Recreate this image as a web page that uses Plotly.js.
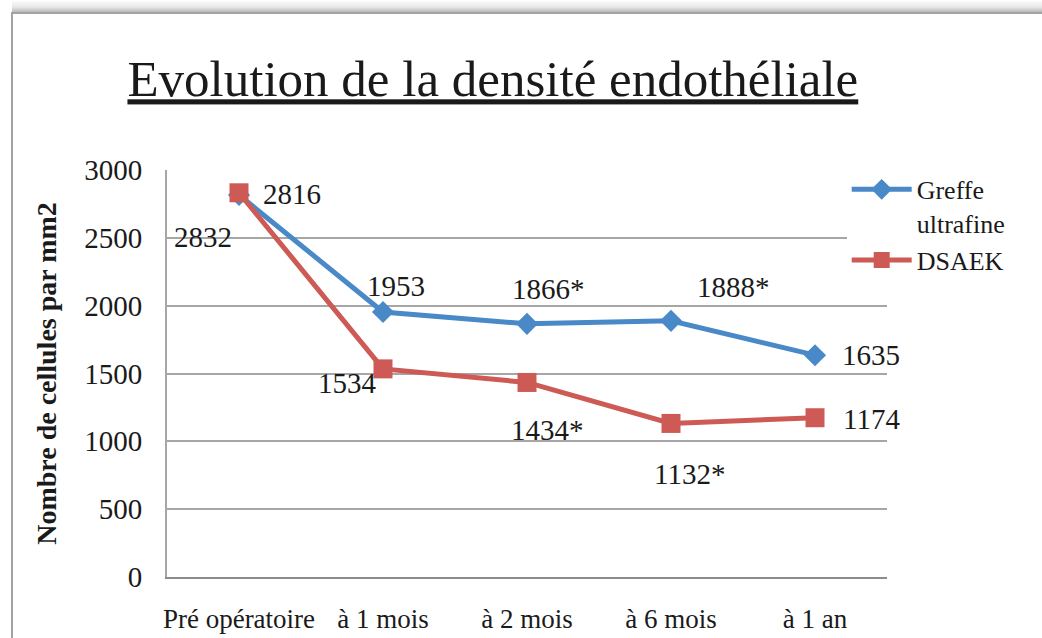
<!DOCTYPE html>
<html>
<head>
<meta charset="utf-8">
<script src="https://cdn.plot.ly/plotly-3.0.1.min.js"></script>
<style>
  html, body { margin: 0; padding: 0; background: #fff; }
  #wrap { position: relative; width: 1042px; height: 638px; overflow: hidden; background: #fff; }
  #shadow { position: absolute; left: 12px; top: 0; width: 1030px; height: 12px;
            background: linear-gradient(to bottom, #ffffff 0%, #e6e6e6 60%, #b8b8b8 100%); }
  #frame { position: absolute; left: 11px; top: 12px; width: 1040px; height: 640px;
           border-top: 2px solid #a3a3a3; border-left: 2px solid #a3a3a3; }
  #chart { position: absolute; left: 0; top: 0; width: 1042px; height: 638px; }
</style>
</head>
<body>
<div id="wrap">
  <div id="shadow"></div>
  <div id="frame"></div>
  <div id="chart"></div>
</div>
<script>
// ---- data ----
const categories = ["Pré opératoire", "à 1 mois", "à 2 mois", "à 6 mois", "à 1 an"];
const greffeValues = [2816, 1953, 1866, 1888, 1635];
const dsaekValues = [2832, 1534, 1434, 1132, 1174];
const greffeStars = ["", "", "*", "*", ""];
const dsaekStars = ["", "", "*", "*", ""];
const yTicks = [0, 500, 1000, 1500, 2000, 2500, 3000];

// ---- styles ----
const FONT = "Liberation Serif, Times New Roman, serif";
const BLUE = "#4A89C8";
const RED = "#CD5A55";
// label pixel offsets (style only)
const greffeShift = [[53, 1], [13, 26], [21, 35], [62, 34], [56, 0]];
const dsaekShift = [[-36, -44], [-36, -14], [20, -48], [18, -51], [56, -1]];

const traces = [
  {
    x: categories, y: greffeValues, name: "Greffe<br>ultrafine",
    type: "scatter", mode: "lines+markers",
    line: { color: BLUE, width: 5 },
    marker: { symbol: "diamond", size: 17, color: BLUE },
    cliponaxis: false
  },
  {
    x: categories, y: dsaekValues, name: "DSAEK",
    type: "scatter", mode: "lines+markers",
    line: { color: RED, width: 5 },
    marker: { symbol: "square", size: 19, color: RED },
    cliponaxis: false
  }
];

const annotations = [];
categories.forEach((c, i) => {
  annotations.push({
    x: c, y: greffeValues[i], xref: "x", yref: "y",
    text: String(greffeValues[i]) + greffeStars[i], showarrow: false,
    xshift: greffeShift[i][0], yshift: greffeShift[i][1],
    font: { family: FONT, size: 29, color: "#1a1a1a" }
  });
  annotations.push({
    x: c, y: dsaekValues[i], xref: "x", yref: "y",
    text: String(dsaekValues[i]) + dsaekStars[i], showarrow: false,
    xshift: dsaekShift[i][0], yshift: dsaekShift[i][1],
    font: { family: FONT, size: 29, color: "#1a1a1a" }
  });
});

const layout = {
  width: 1042, height: 638,
  margin: { l: 167, r: 155, t: 170, b: 61, pad: 0 },
  paper_bgcolor: "rgba(0,0,0,0)",
  plot_bgcolor: "rgba(0,0,0,0)",
  font: { family: FONT, size: 27, color: "#1a1a1a" },
  title: {
    text: "Evolution de la densité endothéliale",
    font: { family: FONT, size: 51, color: "#1a1a1a", lineposition: "under" },
    xref: "container", yref: "container",
    x: 0.473, xanchor: "center", y: 0.877, yanchor: "middle"
  },
  xaxis: {
    type: "category",
    range: [-0.5, 4.5],
    showgrid: false,
    showline: true, linecolor: "#8c8c8c", linewidth: 2,
    ticks: "", ticklabelstandoff: 17,
    tickfont: { family: FONT, size: 27, color: "#1a1a1a" },
    zeroline: false, fixedrange: true
  },
  yaxis: {
    range: [0, 3000],
    tickvals: yTicks,
    ticktext: yTicks.map(String),
    showgrid: true, gridcolor: "#a6a6a6", gridwidth: 2,
    showline: true, linecolor: "#a6a6a6", linewidth: 2,
    ticks: "", ticklabelstandoff: 17,
    tickfont: { family: FONT, size: 29, color: "#1a1a1a" },
    zeroline: false, fixedrange: true,
    title: {
      text: "<b>Nombre de cellules par mm2</b>",
      font: { family: FONT, size: 28, color: "#1a1a1a" },
      standoff: 19
    }
  },
  legend: {
    x: 0.944, xanchor: "left", y: 1.01, yanchor: "top",
    bgcolor: "#ffffff",
    font: { family: FONT, size: 26, color: "#1a1a1a" },
    valign: "top",
    itemwidth: 60,
    tracegroupgap: 10,
    traceorder: "normal"
  },
  showlegend: true,
  annotations: annotations
};

Plotly.newPlot("chart", traces, layout, { displayModeBar: false, staticPlot: true });
</script>
</body>
</html>
